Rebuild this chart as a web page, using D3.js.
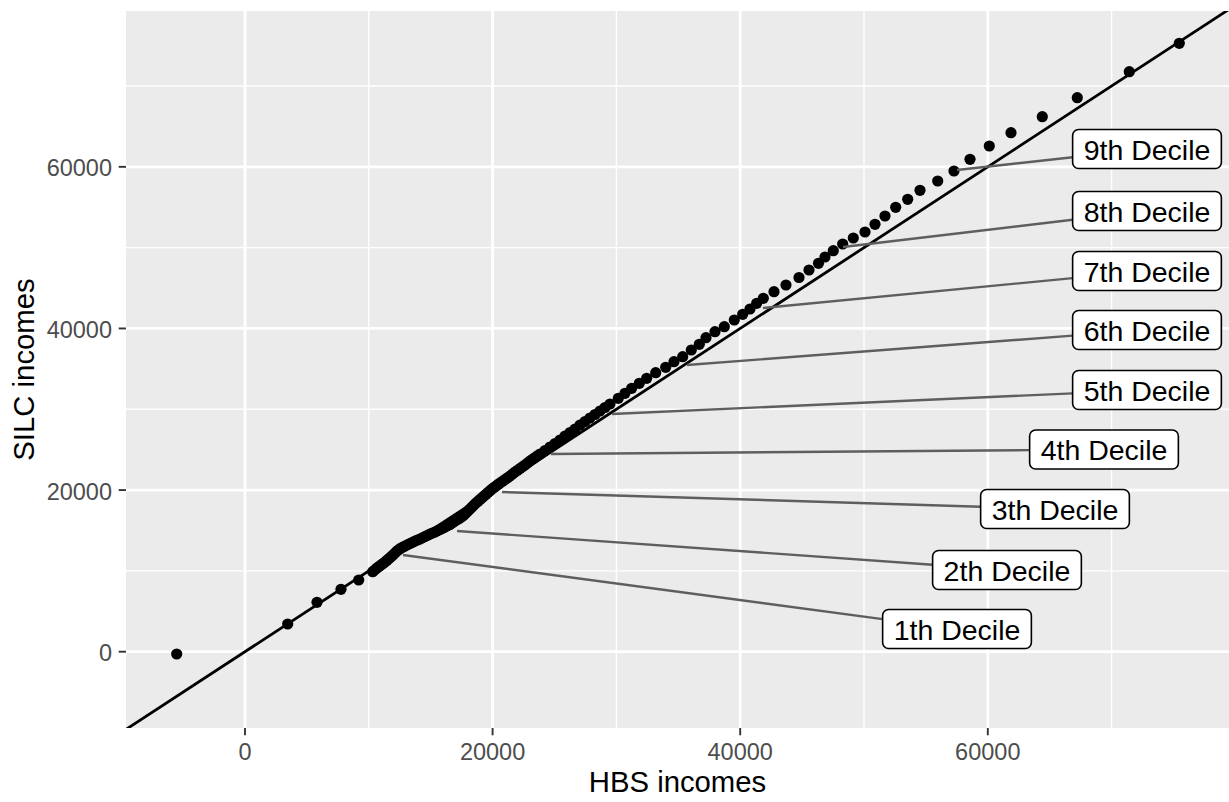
<!DOCTYPE html>
<html>
<head>
<meta charset="utf-8">
<script src="https://cdn.jsdelivr.net/npm/d3@7"></script>
<style>
  html, body { margin: 0; padding: 0; background: #fff; }
  svg { display: block; font-family: "Liberation Sans", Arial, sans-serif; }
</style>
</head>
<body>
<div id="chart"></div>
<script>
// quantiles of HBS incomes vs SILC incomes
const hbs = [
  -5517, 3449, 5816, 7754, 9184, 10315, 10490, 10662, 10824, 10985,
  11147, 11309, 11471, 11632, 11794, 11955, 12117, 12278, 12440, 12601,
  12763, 12924, 13126, 13328, 13530, 13732, 13934, 14136, 14338, 14540,
  14742, 14943, 15145, 15347, 15549, 15751, 15953, 16155, 16357, 16559,
  16761, 16963, 17165, 17367, 17529, 17690, 17852, 18013, 18175, 18336,
  18498, 18659, 18821, 18982, 19144, 19305, 19467, 19628, 19790, 19951,
  20113, 20275, 20437, 20598, 20800, 21002, 21204, 21405, 21607, 21809,
  22011, 22213, 22415, 22617, 22819, 23021, 23223, 23425, 23627, 23829,
  24233, 24636, 25040, 25444, 25848, 26252, 26656, 27060, 27464, 27867,
  28271, 28675, 29079, 29483, 30153, 30695, 31236, 31850, 32447, 33174,
  33982, 34652, 35355, 36050, 36696, 37237, 37964, 38716, 39523, 40202,
  40791, 41333, 41866, 42730, 43699, 44749, 45557, 46324, 46850, 47520,
  48279, 49136, 50081, 50888, 51696, 52560, 53530, 54523, 55953, 57269,
  58562, 60121, 61874, 64402, 67229, 71429, 75468];
const silc = [
  -285, 3428, 6113, 7722, 8873, 9900, 10130, 10358, 10544, 10729,
  10915, 11100, 11317, 11534, 11750, 11967, 12215, 12462, 12648, 12833,
  12957, 13080, 13235, 13390, 13545, 13699, 13823, 13946, 14101, 14256,
  14411, 14565, 14689, 14813, 14968, 15122, 15277, 15432, 15587, 15741,
  15958, 16174, 16360, 16545, 16731, 16917, 17165, 17412, 17660, 17907,
  18155, 18402, 18619, 18835, 19052, 19268, 19485, 19701, 19918, 20134,
  20320, 20505, 20691, 20877, 21094, 21310, 21527, 21743, 21991, 22238,
  22455, 22671, 22888, 23104, 23352, 23599, 23816, 24032, 24249, 24465,
  24899, 25332, 25765, 26198, 26693, 27126, 27559, 28054, 28487, 28920,
  29354, 29787, 30220, 30653, 31358, 31977, 32596, 33215, 33833, 34526,
  35195, 35888, 36506, 37335, 38041, 38858, 39600, 40219, 41048, 41753,
  42409, 43115, 43733, 44550, 45380, 46307, 47235, 48064, 48844, 49624,
  50453, 51195, 51938, 52891, 53918, 54995, 55985, 57098, 58249, 59487,
  60935, 62580, 64226, 66206, 68558, 71775, 75290];

// decile labels: point (HBS, SILC) and where the repelled label sits
const decileNames = ["1th Decile", "2th Decile", "3th Decile", "4th Decile", "5th Decile",
  "6th Decile", "7th Decile", "8th Decile", "9th Decile"];
const decileHbs = [12762, 17124, 20759, 24717, 29644, 35703, 41841, 48303, 57512];
const decileSilc = [11967, 14937, 19763, 24465, 29416, 35479, 42533, 50082, 59610];
const labelHbs = [57512, 61550, 65428, 69386, 72859, 72859, 72859, 72859, 72859];
const labelSilc = [2809, 10110, 17659, 25022, 32386, 39810, 47112, 54537, 62209];

const majorTicks = [0, 20000, 40000, 60000];
const minorTicks = [10000, 30000, 50000, 70000];
const xDomain = [-9612, 79483], yDomain = [-9442, 79285];

const W = 1229, H = 802;
const panel = {left: 126, right: 1229, top: 11, bottom: 728};

const svg = d3.select("#chart").append("svg")
    .attr("width", W).attr("height", H);

const x = d3.scaleLinear().domain(xDomain).range([panel.left, panel.right]);
const y = d3.scaleLinear().domain(yDomain).range([panel.bottom, panel.top]);

svg.append("defs").append("clipPath").attr("id", "clip")
  .append("rect")
    .attr("x", panel.left).attr("y", panel.top)
    .attr("width", panel.right - panel.left)
    .attr("height", panel.bottom - panel.top);

svg.append("rect")
    .attr("x", panel.left).attr("y", panel.top)
    .attr("width", panel.right - panel.left)
    .attr("height", panel.bottom - panel.top)
    .attr("fill", "#EBEBEB");

// grid
const grid = svg.append("g");
function gridLines(ticks, w) {
  grid.selectAll(null).data(ticks).enter().append("line")
      .attr("x1", d => x(d)).attr("x2", d => x(d))
      .attr("y1", panel.top).attr("y2", panel.bottom)
      .attr("stroke", "#fff").attr("stroke-width", w);
  grid.selectAll(null).data(ticks).enter().append("line")
      .attr("y1", d => y(d)).attr("y2", d => y(d))
      .attr("x1", panel.left).attr("x2", panel.right)
      .attr("stroke", "#fff").attr("stroke-width", w);
}
gridLines(minorTicks, 1.4);
gridLines(majorTicks, 2.8);

const plot = svg.append("g").attr("clip-path", "url(#clip)");

plot.selectAll("circle").data(hbs).enter().append("circle")
    .attr("cx", d => x(d))
    .attr("cy", (d, i) => y(silc[i]))
    .attr("r", 5.6)
    .attr("fill", "#000");

// y = x reference line
plot.append("line")
    .attr("x1", x(xDomain[0])).attr("y1", y(xDomain[0]))
    .attr("x2", x(xDomain[1])).attr("y2", y(xDomain[1]))
    .attr("stroke", "#000").attr("stroke-width", 2.8);

// decile labels
const fontSize = 28.5, pad = 11, boxH = 39;
const labels = svg.append("g");
decileNames.forEach((name, i) => {
  const cx = x(labelHbs[i]), cy = y(labelSilc[i]);
  const t = labels.append("text")
      .attr("font-size", fontSize)
      .attr("fill", "#000")
      .text(name);
  const tw = t.node().getComputedTextLength();
  const bw = tw + 2 * pad;
  const bx = cx - bw / 2, by = cy - boxH / 2;
  // segment from point to label edge
  const px = x(decileHbs[i]), py = y(decileSilc[i]);
  const dx = cx - px, dy = cy - py;
  const s = Math.min((bw / 2) / Math.abs(dx), (boxH / 2) / Math.abs(dy));
  const ex = cx - dx * s, ey = cy - dy * s;
  labels.insert("line", "text")
      .attr("x1", px).attr("y1", py).attr("x2", ex).attr("y2", ey)
      .attr("stroke", "#5e5e5e").attr("stroke-width", 2.4);
  labels.insert("rect", "text")
      .attr("x", bx).attr("y", by)
      .attr("width", bw).attr("height", boxH)
      .attr("rx", 6).attr("ry", 6)
      .attr("fill", "#fff").attr("stroke", "#000").attr("stroke-width", 1.6);
  t.attr("x", bx + pad).attr("y", cy + 11);
});

// axes
const axisG = svg.append("g");
axisG.selectAll(null).data(majorTicks).enter().append("line")
    .attr("x1", d => x(d)).attr("x2", d => x(d))
    .attr("y1", panel.bottom).attr("y2", panel.bottom + 7.3)
    .attr("stroke", "#333").attr("stroke-width", 1.9);
axisG.selectAll(null).data(majorTicks).enter().append("text")
    .attr("x", d => x(d)).attr("y", 760)
    .attr("text-anchor", "middle")
    .attr("font-size", 23.5).attr("fill", "#4D4D4D")
    .text(d => d);
axisG.selectAll(null).data(majorTicks).enter().append("line")
    .attr("y1", d => y(d)).attr("y2", d => y(d))
    .attr("x1", panel.left - 7.3).attr("x2", panel.left)
    .attr("stroke", "#333").attr("stroke-width", 1.9);
axisG.selectAll(null).data(majorTicks).enter().append("text")
    .attr("x", 112).attr("y", d => y(d) + 9.5)
    .attr("text-anchor", "end")
    .attr("font-size", 23.5).attr("fill", "#4D4D4D")
    .text(d => d);

svg.append("text")
    .attr("x", (panel.left + panel.right) / 2).attr("y", 792)
    .attr("text-anchor", "middle")
    .attr("font-size", 29.3).attr("fill", "#000")
    .text("HBS incomes");
svg.append("text")
    .attr("transform", `translate(34,${(panel.top + panel.bottom) / 2}) rotate(-90)`)
    .attr("text-anchor", "middle")
    .attr("font-size", 29.3).attr("fill", "#000")
    .text("SILC incomes");
</script>
</body>
</html>
